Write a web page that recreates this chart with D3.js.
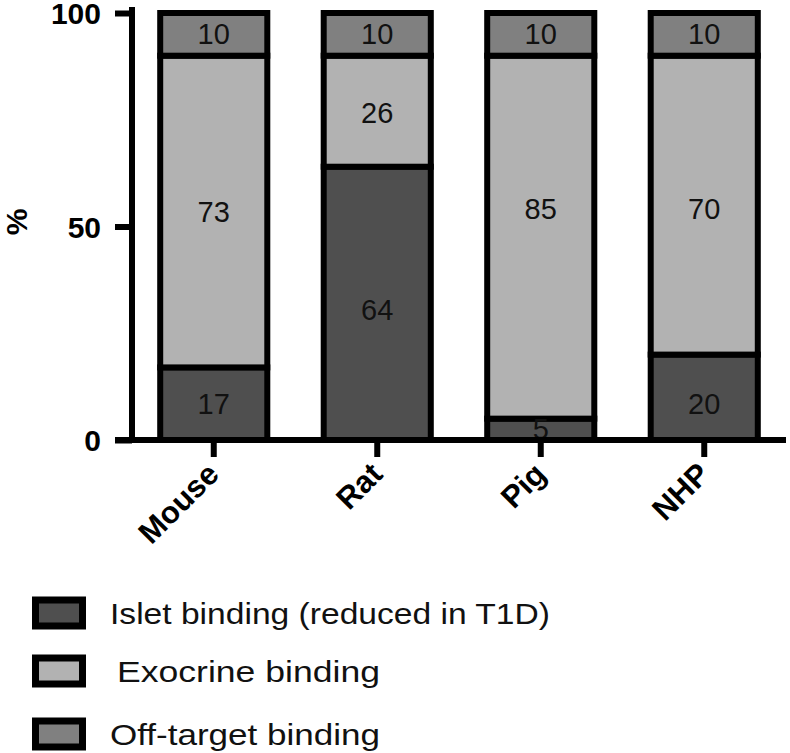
<!DOCTYPE html>
<html>
<head>
<meta charset="utf-8">
<script src="https://cdn.jsdelivr.net/npm/d3@7"></script>
<style>
  html, body { margin: 0; padding: 0; background: #fff; }
  svg { display: block; font-family: "Liberation Sans", Arial, sans-serif; }
</style>
</head>
<body>
<svg id="chart" width="790" height="753"></svg>
<script>
const categories = ["Mouse", "Rat", "Pig", "NHP"];
const seriesNames = ["Islet binding (reduced in T1D)", "Exocrine binding", "Off-target binding"];
const islet = [17, 64, 5, 20];
const exocrine = [73, 26, 85, 70];
const offTarget = [10, 10, 10, 10];
// level (in % units) where each value label sits
const isletLabelAt = [8.5, 30.5, 2.5, 8.5];
const exocrineLabelAt = [53.5, 76.5, 54, 54];
const offTargetLabelAt = [95, 95, 95, 95];
const yTicks = [0, 50, 100];
const colors = ["#4f4f4f", "#b2b2b2", "#808080"];

const svg = d3.select("#chart");
const x = d3.scaleBand().domain(categories).range([132, 786]).paddingInner(0.345).paddingOuter(0.1725);
const y = d3.scaleLinear().domain([0, 100]).range([440, 13]);

const rows = categories.map((c, i) => ({ cat: c, islet: islet[i], exocrine: exocrine[i], offTarget: offTarget[i] }));
const stack = d3.stack().keys(["islet", "exocrine", "offTarget"])(rows);
const labelAt = [isletLabelAt, exocrineLabelAt, offTargetLabelAt];

// bars
const layers = svg.append("g").selectAll("g").data(stack).join("g")
  .attr("fill", (d, i) => colors[i]);
layers.selectAll("rect").data(d => d).join("rect")
  .attr("x", d => x(d.data.cat))
  .attr("width", x.bandwidth())
  .attr("y", d => y(d[1]))
  .attr("height", d => y(d[0]) - y(d[1]))
  .attr("stroke", "#000")
  .attr("stroke-width", 6);

// value labels
stack.forEach((layer, li) => {
  svg.append("g").selectAll("text").data(layer).join("text")
    .attr("x", d => x(d.data.cat) + x.bandwidth() / 2)
    .attr("y", (d, i) => y(labelAt[li][i]))
    .attr("text-anchor", "middle")
    .attr("dominant-baseline", "central")
    .attr("font-size", 29)
    .attr("fill", "#111")
    .text(d => d[1] - d[0]);
});

// y axis
const yAxis = svg.append("g").attr("transform", "translate(132,0)")
  .call(d3.axisLeft(y).tickValues(yTicks).tickSize(17).tickPadding(14).tickFormat(d3.format("d")));
yAxis.select(".domain").attr("d", `M0,${y(100) - 6}V${y(0)}`).attr("stroke", "#000").attr("stroke-width", 6);
yAxis.selectAll(".tick line").attr("stroke", "#000").attr("stroke-width", 6);
yAxis.selectAll(".tick text").attr("font-size", 30).attr("font-weight", "bold").attr("fill", "#000")
  .attr("font-family", "'Liberation Sans', Arial, sans-serif")
  .attr("dy", "0.36em");

// x axis
const xAxis = svg.append("g").attr("transform", `translate(0,${y(0)})`)
  .call(d3.axisBottom(x).tickSize(17).tickSizeOuter(0));
xAxis.select(".domain").attr("d", "M115,0H786").attr("stroke", "#000").attr("stroke-width", 6);
xAxis.selectAll(".tick line").attr("stroke", "#000").attr("stroke-width", 6);
xAxis.selectAll(".tick text")
  .attr("font-size", 31).attr("font-weight", "bold").attr("fill", "#000")
  .attr("font-family", "'Liberation Sans', Arial, sans-serif")
  .attr("text-anchor", "end")
  .attr("dy", null)
  .attr("y", 0)
  .attr("transform", "translate(7,36) rotate(-45)");

// y label
svg.append("text")
  .attr("transform", "translate(27,222) rotate(-90)")
  .attr("text-anchor", "middle")
  .attr("font-size", 30).attr("font-weight", "bold")
  .text("%");

// legend
const legendY = [613, 671, 734];
const legendTextX = [110, 117, 110];
const legendTextW = [440, 263, 270];
const lg = svg.append("g");
seriesNames.forEach((lab, i) => {
  lg.append("rect")
    .attr("x", 35.5).attr("y", legendY[i] - 13)
    .attr("width", 47).attr("height", 26)
    .attr("fill", colors[i]).attr("stroke", "#000").attr("stroke-width", 7);
  lg.append("text")
    .attr("x", legendTextX[i]).attr("y", legendY[i])
    .attr("dominant-baseline", "central")
    .attr("font-size", 30)
    .attr("fill", "#111")
    .attr("textLength", legendTextW[i])
    .attr("lengthAdjust", "spacingAndGlyphs")
    .text(lab);
});
</script>
</body>
</html>
